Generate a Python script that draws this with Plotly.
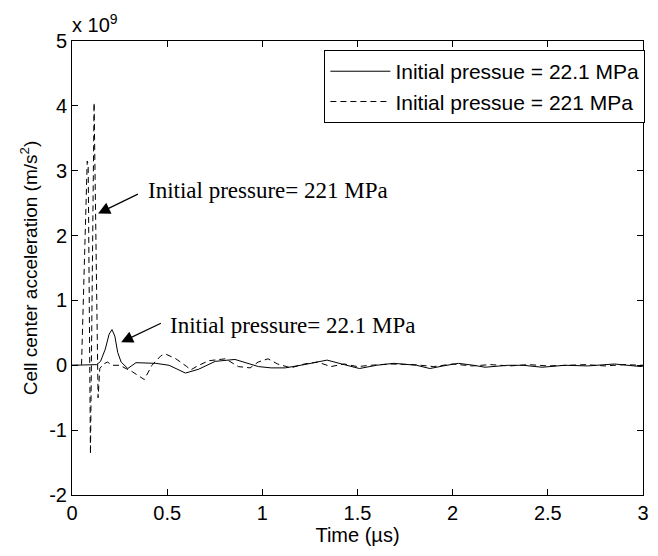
import plotly.graph_objects as go

# Time in microseconds, acceleration in units of 1e9 m/s^2
t_low = [0, 0.12, 0.13, 0.15, 0.175, 0.195, 0.21, 0.225, 0.24, 0.258, 0.293, 0.336, 0.37, 0.44, 0.51,
         0.596, 0.666, 0.752, 0.856, 0.93, 0.98, 1.046, 1.12, 1.22, 1.34, 1.43, 1.51, 1.6, 1.69,
         1.81, 1.88, 1.95, 2.03, 2.11, 2.17, 2.29, 2.37, 2.47, 2.59, 2.71, 2.85, 2.99, 3.0]
a_low = [0, 0, 0.01, 0.06, 0.25, 0.48, 0.55, 0.45, 0.2, 0.05, -0.05, 0.04, 0.04, 0.03, 0.0,
         -0.12, -0.06, 0.06, 0.09, 0.03, -0.02, -0.04, -0.04, 0.01, 0.08, 0.01, -0.05, 0.0, 0.03,
         0.0, -0.05, -0.01, 0.03, 0.0, -0.03, 0.0, 0.0, -0.03, 0.0, -0.01, 0.02, -0.02, -0.01]

t_high = [0, 0.05, 0.08, 0.085, 0.097, 0.116, 0.137, 0.146, 0.165, 0.187, 0.21, 0.25, 0.317, 0.38,
          0.42, 0.468, 0.494, 0.546, 0.603, 0.624, 0.666, 0.718, 0.806, 0.874, 0.936, 0.978, 1.03,
          1.08, 1.15, 1.22, 1.29, 1.36, 1.43, 1.50, 1.57, 1.67, 1.8, 1.9, 2.0, 2.1, 2.2, 2.3, 2.4,
          2.5, 2.6, 2.7, 2.8, 2.9, 3.0]
a_high = [0, 0, 3.15, 3.1, -1.37, 4.05, -0.5, -0.05, 0.02, 0.05, 0.0, 0.0, -0.1, -0.22,
          0.0, 0.15, 0.17, 0.1, -0.02, -0.07, 0.0, 0.07, 0.1, -0.02, -0.04, 0.05, 0.1,
          0.02, -0.04, 0.02, 0.05, -0.02, 0.02, -0.02, 0.0, 0.02, 0.01, -0.02, 0.02, -0.01, 0.01, -0.01, 0.01,
          -0.01, 0.0, 0.01, -0.01, 0.01, 0.0]

x_ticks = [0, 0.5, 1, 1.5, 2, 2.5, 3]
x_ticklabels = ["0", "0.5", "1", "1.5", "2", "2.5", "3"]
y_ticks = [-2, -1, 0, 1, 2, 3, 4, 5]
y_ticklabels = ["-2", "-1", "0", "1", "2", "3", "4", "5"]

SANS = "Liberation Sans, Arial"
SERIF = "Liberation Serif, Times New Roman"

fig = go.Figure()
fig.add_trace(go.Scatter(x=t_low, y=a_low, mode="lines", name="Initial pressue = 22.1 MPa",
                         line=dict(color="black", width=1, dash="solid")))
fig.add_trace(go.Scatter(x=t_high, y=a_high, mode="lines", name="Initial pressue = 221 MPa",
                         line=dict(color="black", width=1, dash="6px,4px")))

axis_common = dict(showline=True, linecolor="black", linewidth=1, mirror="ticks",
                   ticks="inside", ticklen=6, tickcolor="black", showgrid=False, zeroline=False,
                   tickfont=dict(family=SANS, size=20, color="black"))

fig.update_layout(
    width=658, height=556,
    margin=dict(l=72, r=9, t=41, b=61),
    paper_bgcolor="white", plot_bgcolor="white",
    xaxis=dict(range=[0, 3], tickvals=x_ticks, ticktext=x_ticklabels,
               title=dict(text="Time (µs)", font=dict(family=SANS, size=20, color="black"),
                          standoff=2),
               **axis_common),
    yaxis=dict(range=[-2, 5], tickvals=y_ticks, ticktext=y_ticklabels,
               title=dict(text="Cell center acceleration (m/s<sup>2</sup>)",
                          font=dict(family=SANS, size=19, color="black"), standoff=6),
               **axis_common),
    legend=dict(x=0.442, y=0.98, xanchor="left", yanchor="top", bgcolor="white",
                bordercolor="black", borderwidth=1,
                font=dict(family=SANS, size=21, color="black"),
                tracegroupgap=0, itemwidth=60),
    showlegend=True,
)

# exponent label
fig.add_annotation(xref="paper", yref="paper", x=0.0, y=1.0, xanchor="left", yanchor="bottom",
                   text="x 10<sup>9</sup>", showarrow=False, yshift=3, xshift=-2,
                   font=dict(family=SANS, size=20, color="black"))

# arrows
fig.add_annotation(x=0.137, y=2.34, ax=0.354, ay=2.65, xref="x", yref="y", axref="x", ayref="y",
                   text="", showarrow=True, arrowhead=2, arrowsize=2, arrowwidth=1.2, arrowcolor="black")
fig.add_annotation(x=0.258, y=0.355, ax=0.475, ay=0.66, xref="x", yref="y", axref="x", ayref="y",
                   text="", showarrow=True, arrowhead=2, arrowsize=2, arrowwidth=1.2, arrowcolor="black")

# texts
fig.add_annotation(x=0.39, y=2.70, xref="x", yref="y", xanchor="left", yanchor="middle",
                   text="Initial pressure= 221 MPa", showarrow=False,
                   font=dict(family=SERIF, size=23, color="black"))
fig.add_annotation(x=0.505, y=0.62, xref="x", yref="y", xanchor="left", yanchor="middle",
                   text="Initial pressure= 22.1 MPa", showarrow=False,
                   font=dict(family=SERIF, size=23, color="black"))

fig.write_html("out.html")
